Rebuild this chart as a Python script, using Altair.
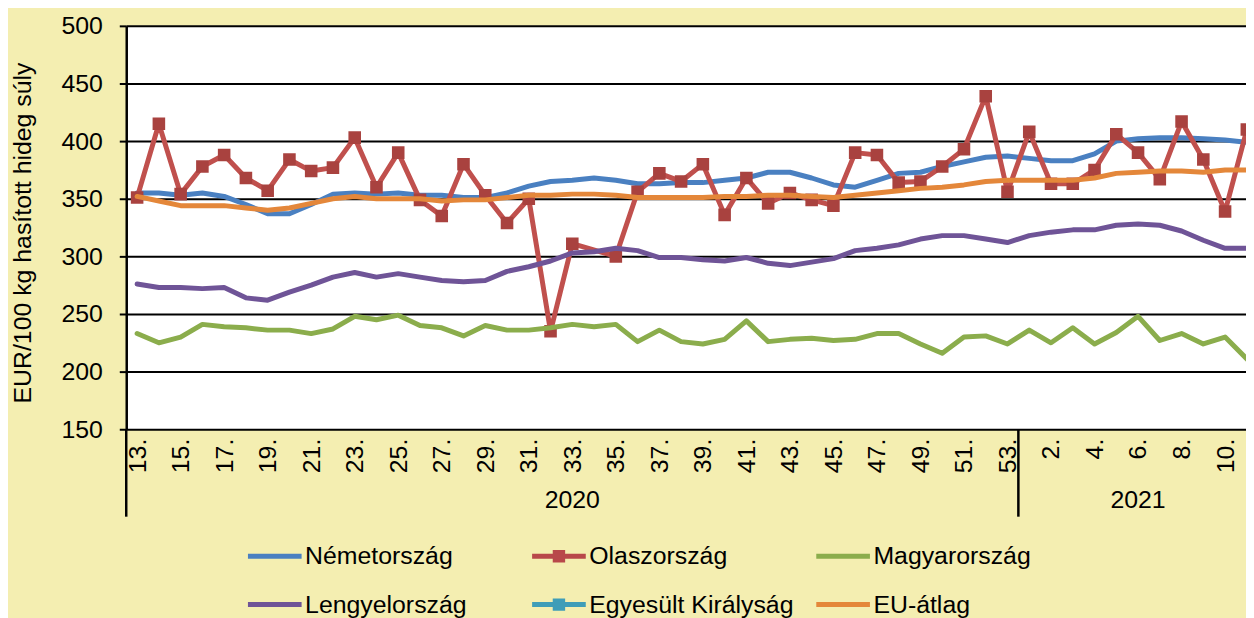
import json
import altair as alt
import pandas as pd

# ---------------- data ----------------
weeks_2020 = list(range(13, 54))
weeks_2021 = list(range(1, 12))
years = ["2020", "2021"]

series_names = ["Németország", "Olaszország", "Magyarország",
                "Lengyelország", "Egyesült Királyság", "EU-átlag"]

nemet = [355, 355, 353, 355, 352, 345, 337, 337, 345, 354,
         355, 354, 355, 353, 353, 351, 351, 355, 361, 365,
         366, 368, 366, 363, 363, 364, 364, 366, 368, 373,
         373, 368, 362, 360, 366, 372, 373, 378, 382, 386,
         387, 385, 383, 383, 389, 400, 402, 403, 403, 402,
         401, 399]
olasz = [351, 415, 354, 378, 388, 368, 357, 384, 374, 377,
         403, 360, 390, 349, 335, 380, 353, 329, 350, 235,
         311, None, 300, 356, 372, 365, 380, 336, 368, 346,
         355, 349, 344, 390, 388, 364, 365, 378, 393, 439,
         356, 408, 363, 363, 375, 406, 390, 367, 417, 384,
         339, 410]
magyar = [233, 225, 230, 241, 239, 238, 236, 236, 233, 237,
          248, 245, 249, 240, 238, 231, 240, 236, 236, 238,
          241, 239, 241, 226, 236, 226, 224, 228, 244, 226,
          228, 229, 227, 228, 233, 233, 224, 216, 230, 231,
          224, 236, 225, 238, 224, 234, 248, 227, 233, 224,
          230, 211]
lengyel = [276, 273, 273, 272, 273, 264, 262, 269, 275, 282,
           286, 282, 285, 282, 279, 278, 279, 287, 291, 296,
           303, 304, 307, 305, 299, 299, 297, 296, 299, 294,
           292, 295, 298, 305, 307, 310, 315, 318, 318, 315,
           312, 318, 321, 323, 323, 327, 328, 327, 322, 314,
           307, 307]
uk = [None] * 52
eu = [352, 348, 344, 344, 344, 342, 340, 342, 346, 350,
      352, 350, 350, 350, 348, 349, 349, 351, 353, 353,
      354, 354, 353, 351, 351, 351, 351, 352, 352, 353,
      353, 352, 351, 353, 355, 357, 359, 360, 362, 365,
      366, 366, 366, 366, 368, 372, 373, 374, 374, 373,
      375, 375]

series_values = [nemet, olasz, magyar, lengyel, uk, eu]

# ---------------- styles ----------------
FONT = "Liberation Sans"
FS = 25
BG = "#F4EEB1"
line_colors = ["#4A80C1", "#C0504D", "#8BAD4C", "#6F5497", "#3F9DB8", "#E4873A"]
legend_colors = ["#4A80C1", "#B8484A", "#8BAD4C", "#6F5497", "#3F9DB8", "#E4873A"]
marker_color = "#A9423F"
has_marker = [False, True, False, False, True, False]

W, H = 1127, 406
STEP = 21.9
XMAX = W / STEP - 0.5

line_path = "M-2.25,-0.21L2.25,-0.21L2.25,0.21L-2.25,0.21Z"
mark_path = line_path + " M-0.52,-0.52L0.52,-0.52L0.52,0.52L-0.52,0.52Z"
legend_paths = [mark_path if m else line_path for m in has_marker]

# ---------------- tables ----------------
week_labels = [f"{w}." for w in weeks_2020] + [f"{w}." for w in weeks_2021]
year_of = [years[0]] * len(weeks_2020) + [years[1]] * len(weeks_2021)

rows = []
for name, vals in zip(series_names, series_values):
    for i, v in enumerate(vals):
        if v is not None:
            rows.append({"idx": i, "series": name, "value": v})
df = pd.DataFrame(rows)

yr = pd.DataFrame({"idx": range(len(week_labels)), "year": year_of})
year_df = yr.groupby("year", as_index=False)["idx"].mean()
sep_df = yr.groupby("year", as_index=False)["idx"].min()
sep_df["idx"] = sep_df["idx"] - 0.5

label_expr = json.dumps(week_labels, ensure_ascii=False) + "[datum.value]"

xenc = alt.X(
    "idx:Q",
    scale=alt.Scale(domain=[-0.5, XMAX], nice=False, zero=False),
    axis=alt.Axis(
        values=list(range(0, len(week_labels), 2)),
        labelExpr=label_expr,
        labelAngle=270, labelAlign="right", labelBaseline="middle",
        labelPadding=9, ticks=False, domain=False, grid=False,
        labelFont=FONT, labelFontSize=FS, labelColor="black",
        labelOverlap=False, labelFlush=False, title=None,
    ),
)
yenc = alt.Y(
    "value:Q",
    scale=alt.Scale(domain=[150, 500], nice=False, zero=False),
    axis=alt.Axis(
        values=list(range(150, 501, 50)),
        grid=True, gridColor="black", gridWidth=2, gridOpacity=1,
        domain=True, domainColor="black", domainWidth=2.5,
        ticks=True, tickColor="black", tickWidth=2, tickSize=7,
        labelFont=FONT, labelFontSize=FS, labelColor="black", labelPadding=17,
        title="EUR/100 kg hasított hideg súly",
        titleFont=FONT, titleFontSize=FS, titleFontWeight="normal",
        titleColor="black", titleAngle=270, titleAlign="center",
        titleBaseline="alphabetic", titleX=-96, titleY=208,
    ),
)

layers = []
for name, col, mk in zip(series_names, line_colors, has_marker):
    sub = alt.Chart(df).transform_filter(alt.datum.series == name)
    layers.append(
        sub.mark_line(strokeWidth=5, clip=True, strokeJoin="round", strokeCap="round")
        .encode(x=xenc, y=yenc, color=alt.value(col))
    )
    if mk:
        layers.append(
            sub.mark_square(size=160, filled=True, opacity=1, clip=True)
            .encode(x=xenc, y=yenc, color=alt.value(marker_color))
        )

leg = alt.Legend(
    orient="none", legendX=137, legendY=521, direction="horizontal",
    columns=3, gridAlign="all", title=None, padding=0,
    symbolSize=576, symbolStrokeWidth=0, symbolOpacity=1,
    labelFont=FONT, labelFontSize=FS, labelColor="black",
    labelOffset=18, labelLimit=400, columnPadding=22, rowPadding=23,
)
legend_layer = (
    alt.Chart(df).transform_filter("false")
    .mark_point(filled=True, opacity=1)
    .encode(
        x=xenc, y=yenc,
        color=alt.Color("series:N", scale=alt.Scale(domain=series_names, range=legend_colors), legend=leg),
        shape=alt.Shape("series:N", scale=alt.Scale(domain=series_names, range=legend_paths), legend=leg),
    )
)

sep_layer = alt.Chart(sep_df).mark_rule(color="black", strokeWidth=2.5, clip=False).encode(
    x=xenc, y=alt.value(H), y2=alt.value(H + 88)
)
year_layer = alt.Chart(year_df).mark_text(
    font=FONT, fontSize=FS, color="black", align="center", baseline="middle", clip=False
).encode(x=xenc, y=alt.value(H + 71), text="year:N")

chart = (
    alt.layer(*layers, sep_layer, year_layer, legend_layer)
    .properties(
        width=W, height=H,
        autosize=alt.AutoSizeParams(type="none"),
        padding={"left": 119, "top": 16, "right": 0, "bottom": 188},
        background=BG,
    )
    .configure_view(fill="white", strokeWidth=0)
)

chart.save("out.html", embed_options={"renderer": "svg", "actions": False})
